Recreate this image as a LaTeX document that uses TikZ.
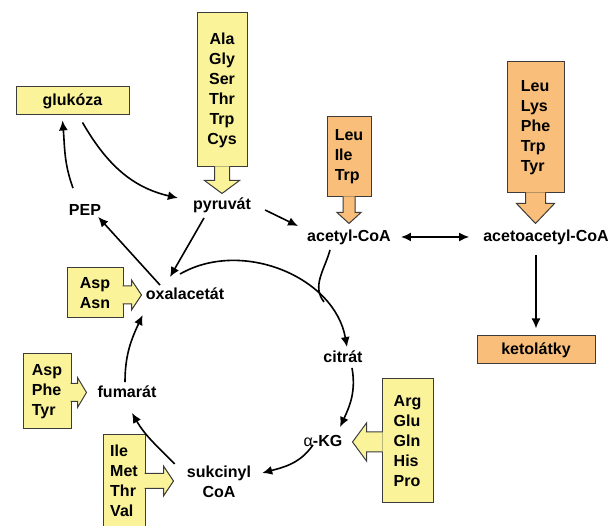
\documentclass[tikz,border=0pt]{standalone}
\usepackage{fontspec}
\setmainfont{Liberation Sans}
\usetikzlibrary{arrows.meta}
\usetikzlibrary{positioning}
\definecolor{myel}{RGB}{250,243,154}
\definecolor{morange}{RGB}{249,191,122}
\definecolor{mline}{RGB}{60,60,60}
\tikzset{txt/.style = {font=\bfseries\fontsize{16}{20}\selectfont, inner sep=2pt, text height=12pt, text depth=3.5pt}}
\tikzset{txttwo/.style = {font=\bfseries\fontsize{16}{20}\selectfont, inner sep=2pt, align=center}}
\tikzset{aabox/.style = {draw=mline, line width=1pt, fill=myel, align=left, inner sep=0pt, font=\bfseries\fontsize{16}{20}\selectfont}}
\tikzset{ketbox/.style = {aabox, fill=morange}}
\tikzset{barrow/.style = {draw=mline, line width=1pt, fill=myel}}
\tikzset{conn/.style = {-{Latex[length=10pt,width=9pt]}, line width=1.6pt}}
\tikzset{dconn/.style = {{Latex[length=10pt,width=9pt]}-{Latex[length=10pt,width=9pt]}, line width=1.6pt}}

\begin{document}
\begin{tikzpicture}[x=1pt, y=1pt]
    \useasboundingbox (0,0) rectangle (611,526);

    % boxes
    \node [aabox, minimum width=113pt, minimum height=28pt] (glukoza) at (72.5, 425) {glukóza};
    \node [aabox, align=center, minimum width=50pt, minimum height=154pt] (ala) at (222, 436) {Ala\\Gly\\Ser\\Thr\\Trp\\Cys};
    \node [ketbox, minimum width=44pt, minimum height=80pt] (leuI) at (349, 369) {Leu\\Ile\\Trp};
    \node [ketbox, minimum width=57pt, minimum height=131pt] (leuL) at (535.5, 398.5) {Leu\\Lys\\Phe\\Trp\\Tyr};
    \node [ketbox, minimum width=118pt, minimum height=28pt] (ketolatky) at (536, 176) {ketolátky};
    \node [aabox, minimum width=51pt, minimum height=124pt] (arg) at (407.5, 85) {Arg\\Glu\\Gln\\His\\Pro};
    \node [aabox, minimum width=56pt, minimum height=50pt] (aspN) at (95, 233) {Asp\\Asn};
    \node [aabox, minimum width=48pt, minimum height=75pt] (aspF) at (47, 134.5) {Asp\\Phe\\Tyr};
    \node [aabox, minimum width=42pt, minimum height=92pt] (ile) at (124, 45) {Ile\\Met\\Thr\\Val};

    % block arrows
    \filldraw [barrow] ([xshift=-7.5pt, yshift=1pt]ala.south) -- ++(0,-14) -- ++(-10,0) -- ++(17.5,-13) -- ++(17.5,13) -- ++(-10,0) -- ++(0,14);
    \filldraw [barrow, fill=morange] ([xshift=-6pt, yshift=1pt]leuI.south) -- ++(0,-16) -- ++(-6,0) -- ++(12,-11) -- ++(12,11) -- ++(-6,0) -- ++(0,16);
    \filldraw [barrow, fill=morange] ([xshift=-10pt, yshift=1pt]leuL.south) -- ++(0,-11) -- ++(-9,0) -- ++(19,-20) -- ++(19,20) -- ++(-9,0) -- ++(0,11);
    \filldraw [barrow] ([xshift=1pt, yshift=9pt]arg.west) -- ++(-16,0) -- ++(0,9) -- ++(-14,-19) -- ++(14,-19) -- ++(0,9) -- ++(16,0);
    \filldraw [barrow] ([xshift=-1pt, yshift=7pt]aspN.east) -- ++(9,0) -- ++(0,6) -- ++(10,-15) -- ++(-10,-15) -- ++(0,6) -- ++(-9,0);
    \filldraw [barrow] ([xshift=-1pt, yshift=8pt]aspF.east) -- ++(7,0) -- ++(0,6) -- ++(9,-15) -- ++(-9,-15) -- ++(0,6) -- ++(-7,0);
    \filldraw [barrow] ([xshift=-1pt, yshift=7.5pt]ile.east) -- ++(19,0) -- ++(0,7.5) -- ++(10,-15) -- ++(-10,-15) -- ++(0,7.5) -- ++(-19,0);

    % metabolites
    \node [txt] (pyruvat) at (222, 321) {pyruvát};
    \node [txt] (PEP) at (85, 315) {PEP};
    \node [txt] (acetylCoA) at (349, 289) {acetyl-CoA};
    \node [txt] (acetoacetylCoA) at (546, 289) {acetoacetyl-CoA};
    \node [txt] (citrat) at (343, 168) {citrát};
    \node [txt] (aKG) at (323, 84) {{\mdseries α}-KG};
    \node [txttwo] (sukcinyl) at (219, 44) {sukcinyl\\CoA};
    \node [txt] (fumarat) at (127, 133) {fumarát};
    \node [txt] (oxal) at (185, 231) {oxalacetát};
    \coordinate (merge) at (324, 224);

    % connectors
    \draw [conn] ([xshift=10pt, yshift=-7pt]glukoza.south) to[out=-60, in=167] ([xshift=-13pt, yshift=7pt]pyruvat.west);
    \draw [conn] ([xshift=-12pt, yshift=13pt]PEP.north) to[out=110, in=-85] ([xshift=-10pt, yshift=-5pt]glukoza.south);
    \draw [conn] ([xshift=-25pt]oxal.north) -- ([xshift=-5pt, yshift=4pt]PEP.south east);
    \draw [conn] ([xshift=-18pt, yshift=-3pt]pyruvat.south) -- ([xshift=-15pt, yshift=8pt]oxal.north);
    \draw [conn] ([xshift=12pt, yshift=-5pt]pyruvat.east) -- ([xshift=-7pt, yshift=1pt]acetylCoA.north west);
    \draw [dconn, shorten <=8pt, shorten >=12pt] (acetylCoA.east) -- (acetoacetylCoA.west);
    \draw [conn, shorten <=8pt, shorten >=7pt] (ketolatky.north |- acetoacetylCoA.south) -- (ketolatky.north);

    % cycle
    \draw [conn] ([xshift=-5pt, yshift=11pt]oxal.north) to[out=30, in=100] ([xshift=4pt, yshift=1pt]citrat.north);
    \draw [line width=1.6pt] ([xshift=-19pt, yshift=-3pt]acetylCoA.south) to[out=-105, in=128] (merge);
    \draw [conn] ([xshift=9pt]citrat.south) to[out=-80, in=65] ([xshift=17pt, yshift=5pt]aKG.north);
    \draw [conn] ([xshift=-10pt, yshift=7pt]aKG.south) to[out=-125, in=15] ([xshift=9pt, yshift=9pt]sukcinyl.east);
    \draw [conn] ([xshift=-10pt]sukcinyl.north west) to[out=135, in=-60] ([xshift=5pt, yshift=-10pt]fumarat.south);
    \draw [conn] ([xshift=-2pt, yshift=1pt]fumarat.north) to[out=90, in=-115] ([xshift=-1pt, yshift=-10pt]oxal.south west);
\end{tikzpicture}
\end{document}
